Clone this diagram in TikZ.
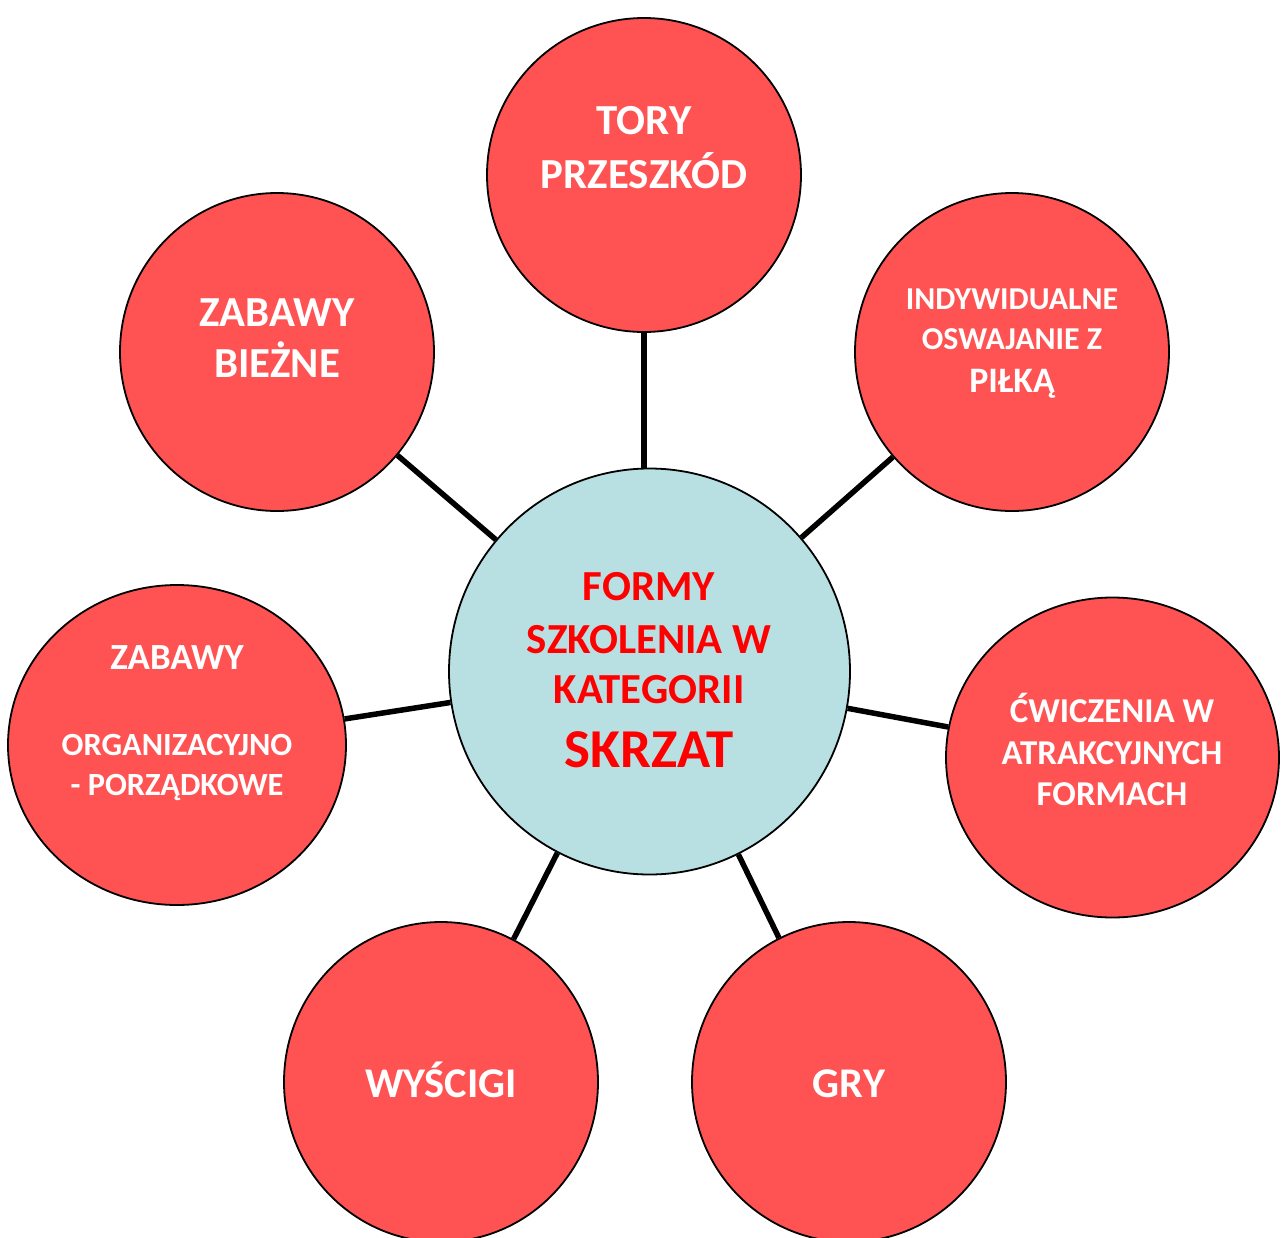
\documentclass[tikz,border=0pt]{standalone}
\usepackage{fontspec}
\setmainfont{Carlito}
\usetikzlibrary{shapes.geometric}
\definecolor{bubblered}{RGB}{255,82,82}
\definecolor{hubblue}{RGB}{184,223,226}
\definecolor{hubtext}{RGB}{255,0,0}
\tikzset{
  bubble/.style={ellipse, draw=black, line width=1.8bp, fill=bubblered, inner sep=0pt},
  hub/.style={ellipse, draw=black, line width=1.8bp, fill=hubblue, inner sep=0pt},
  spoke/.style={draw=black, line width=5.5bp},
  wt/.style={anchor=base, text=white, inner sep=0pt},
  rt/.style={anchor=base, text=hubtext, inner sep=0pt},
}
\newcommand{\fs}[1]{\fontsize{#1}{#1}\selectfont}
\begin{document}
\begin{tikzpicture}[x=1bp,y=-1bp]
\useasboundingbox (0,0) rectangle (1281,1238);
\clip (0,0) rectangle (1281,1238);
% circles
\node[hub, minimum width=401bp, minimum height=406bp] (hubc) at (649.5,671.5) {};
\node[bubble, minimum width=314bp, minimum height=314bp] (tory) at (644,175) {};
\node[bubble, minimum width=314bp, minimum height=318bp] (biezne) at (277,352) {};
\node[bubble, minimum width=314bp, minimum height=318bp] (indyw) at (1012,352) {};
\node[bubble, minimum width=338bp, minimum height=320bp] (org) at (177,745) {};
\node[bubble, minimum width=333bp, minimum height=320bp] (cwicz) at (1112.5,757.5) {};
\node[bubble, minimum width=314bp, minimum height=320bp] (wyscigi) at (441,1082) {};
\node[bubble, minimum width=314bp, minimum height=320bp] (gry) at (849,1082) {};
% texts
\node[rt, font=\bfseries\fs{43}] (h1) at (649,600) {FORMY};
\node[rt, font=\bfseries\fs{43}] (h2) at (649,653) {SZKOLENIA W};
\node[rt, font=\bfseries\fs{43}] (h3) at (649,703) {KATEGORII};
\node[rt, font=\bfseries\fs{55}] (h4) at (649,767) {SKRZAT};

\node[wt, font=\bfseries\fs{43}] (t1) at (644,134) {TORY};
\node[wt, font=\bfseries\fs{43}] (t2) at (644,188) {PRZESZKÓD};

\node[wt, font=\bfseries\fs{43}] (b1) at (277,326) {ZABAWY};
\node[wt, font=\bfseries\fs{43}] (b2) at (277,377) {BIEŻNE};

\node[wt, font=\bfseries\fs{32}] (i1) at (1012,309) {INDYWIDUALNE};
\node[wt, font=\bfseries\fs{32}] (i2) at (1012,349) {OSWAJANIE Z};
\node[wt, font=\bfseries\fs{36}] (i3) at (1012,392) {PIŁKĄ};

\node[wt, font=\bfseries\fs{37}] (o1) at (177,669) {ZABAWY};
\node[wt, font=\bfseries\fs{32.5}] (o2) at (177,755) {ORGANIZACYJNO};
\node[wt, font=\bfseries\fs{32.5}] (o3) at (177,795) {- PORZĄDKOWE};

\node[wt, font=\bfseries\fs{35}] (c1) at (1112,722) {ĆWICZENIA W};
\node[wt, font=\bfseries\fs{35}] (c2) at (1112,764) {ATRAKCYJNYCH};
\node[wt, font=\bfseries\fs{35}] (c3) at (1112,805) {FORMACH};

\node[wt, font=\bfseries\fs{42.5}] (w1) at (441,1097) {WYŚCIGI};
\node[wt, font=\bfseries\fs{42.5}] (g1) at (849,1097) {GRY};

% spokes
\draw[spoke] (tory.south) -- (tory.south |- hubc.north);
\draw[spoke] (biezne) -- (hubc);
\draw[spoke] (indyw) -- (hubc);
\draw[spoke] (org) -- (hubc);
\draw[spoke] (cwicz) -- (hubc);
\draw[spoke] (wyscigi) -- (hubc);
\draw[spoke] (gry) -- (hubc);
\end{tikzpicture}
\end{document}
